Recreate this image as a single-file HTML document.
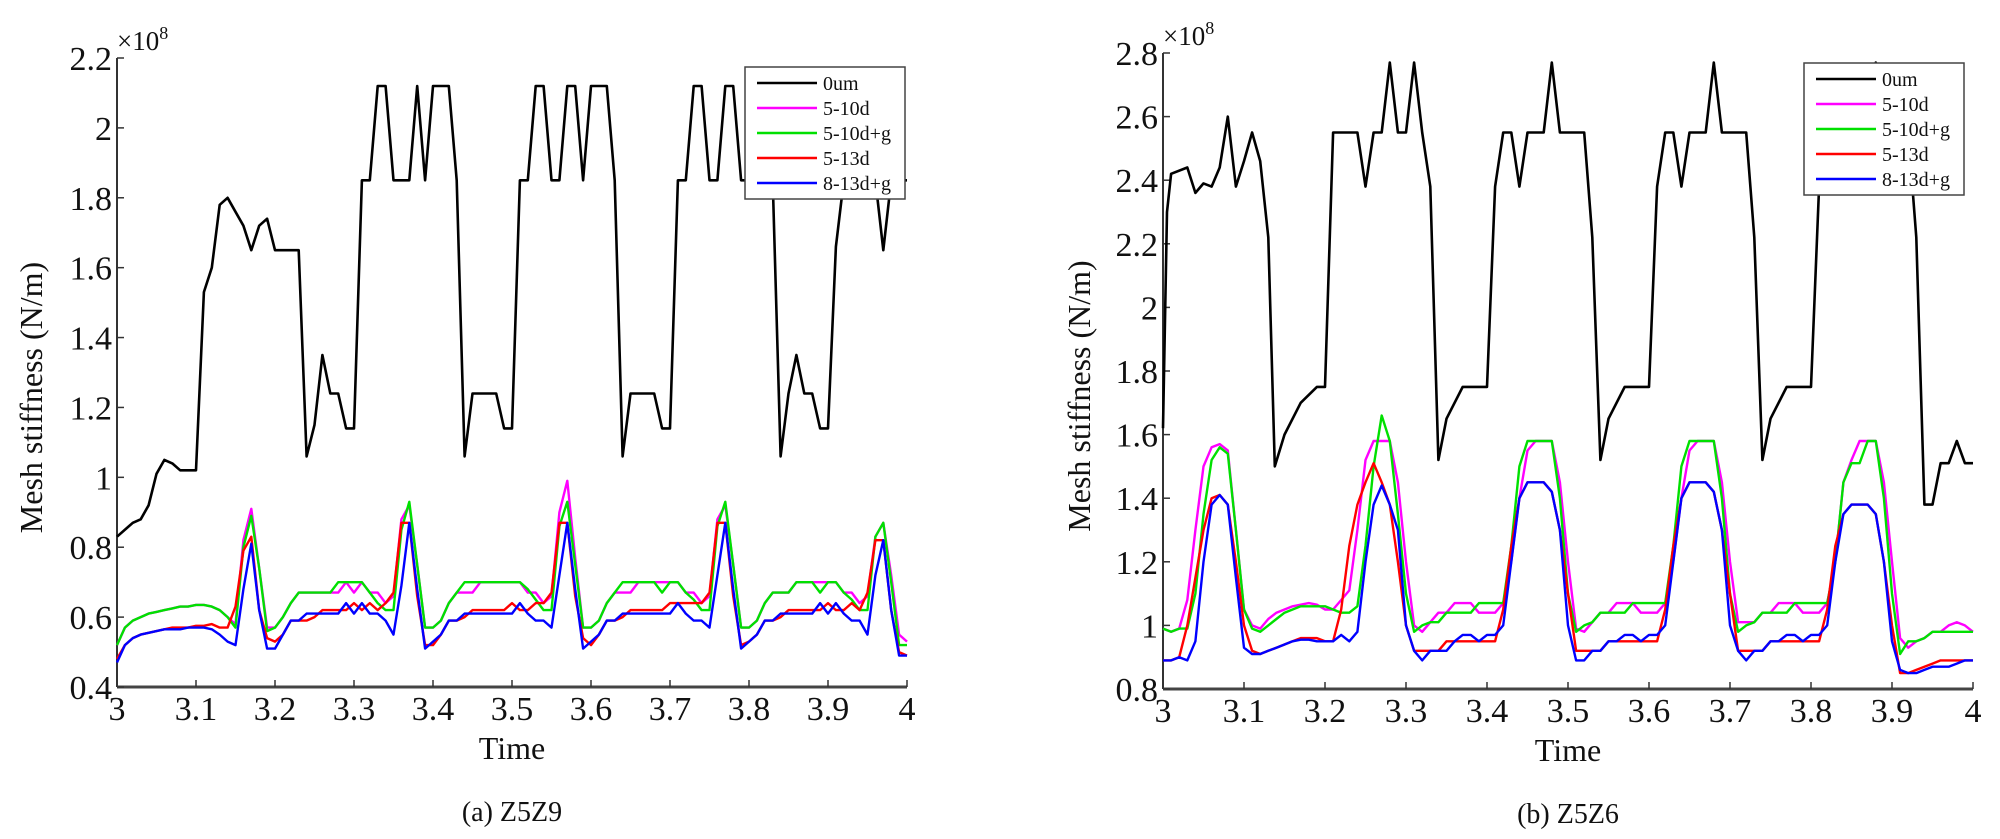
<!DOCTYPE html>
<html><head><meta charset="utf-8">
<style>
html,body{margin:0;padding:0;background:#fff;}
svg{display:block;font-family:"Liberation Serif",serif;}
</style></head>
<body>
<svg id="fig" width="2000" height="839" viewBox="0 0 2000 839" xmlns="http://www.w3.org/2000/svg">
<rect width="2000" height="839" fill="#fff"/>
<g id="chartA"></g>
<g id="chartB"></g>
</svg>
<script>
// ---------- Data: time grid (0.01 step) ----------
const tGrid = [3.00,3.01,3.02,3.03,3.04,3.05,3.06,3.07,3.08,3.09,3.10,3.11,3.12,3.13,3.14,3.15,3.16,3.17,3.18,3.19,3.20,3.21,3.22,3.23,3.24,3.25,3.26,3.27,3.28,3.29,3.30,3.31,3.32,3.33,3.34,3.35,3.36,3.37,3.38,3.39,3.40,3.41,3.42,3.43,3.44,3.45,3.46,3.47,3.48,3.49,3.50,3.51,3.52,3.53,3.54,3.55,3.56,3.57,3.58,3.59,3.60,3.61,3.62,3.63,3.64,3.65,3.66,3.67,3.68,3.69,3.70,3.71,3.72,3.73,3.74,3.75,3.76,3.77,3.78,3.79,3.80,3.81,3.82,3.83,3.84,3.85,3.86,3.87,3.88,3.89,3.90,3.91,3.92,3.93,3.94,3.95,3.96,3.97,3.98,3.99,4.00];

// ---------- Chart (a) Z5Z9 ----------
const aBlackT = [3.00,3.02,3.03,3.04,3.05,3.06,3.07,3.08,3.10,3.11,3.12,3.13,3.14,3.15,3.16,3.17,3.18,3.19,3.20,3.23,3.24,3.25,3.26,3.27,3.28,3.29,3.30,3.31,3.32,3.33,3.34,3.35,3.37,3.38,3.39,3.40,3.42,3.43,3.44,3.45,3.48,3.49,3.50,3.51,3.52,3.53,3.54,3.55,3.56,3.57,3.58,3.59,3.60,3.62,3.63,3.64,3.65,3.68,3.69,3.70,3.71,3.72,3.73,3.74,3.75,3.76,3.77,3.78,3.79,3.83,3.84,3.85,3.86,3.87,3.88,3.89,3.90,3.91,3.92,3.93,3.94,3.95,3.96,3.97,3.98,4.00];
const aBlackV = [0.83,0.87,0.88,0.92,1.01,1.05,1.04,1.02,1.02,1.53,1.60,1.78,1.80,1.76,1.72,1.65,1.72,1.74,1.65,1.65,1.06,1.15,1.35,1.24,1.24,1.14,1.14,1.85,1.85,2.12,2.12,1.85,1.85,2.12,1.85,2.12,2.12,1.85,1.06,1.24,1.24,1.14,1.14,1.85,1.85,2.12,2.12,1.85,1.85,2.12,2.12,1.85,2.12,2.12,1.85,1.06,1.24,1.24,1.14,1.14,1.85,1.85,2.12,2.12,1.85,1.85,2.12,2.12,1.85,1.85,1.06,1.24,1.35,1.24,1.24,1.14,1.14,1.66,1.85,2.12,2.12,1.85,1.85,1.65,1.85,1.85];
const aMagenta = [0.52,0.57,0.59,0.60,0.61,0.615,0.62,0.625,0.63,0.63,0.635,0.635,0.63,0.62,0.60,0.58,
 0.82,0.91,0.74,0.57,
 0.57,0.60,0.64,0.67,0.67,0.67,0.67,0.67,0.67,0.70,0.67,0.70,0.67,0.67,0.64,0.66,
 0.88,0.92,0.75,0.57,
 0.57,0.59,0.64,0.67,0.67,0.67,0.70,0.70,0.70,0.70,0.70,0.70,0.67,0.67,0.64,0.66,
 0.90,0.99,0.77,0.57,
 0.57,0.59,0.64,0.67,0.67,0.67,0.70,0.70,0.70,0.70,0.70,0.70,0.67,0.67,0.64,0.66,
 0.88,0.92,0.75,0.57,
 0.57,0.59,0.64,0.67,0.67,0.67,0.70,0.70,0.70,0.70,0.70,0.70,0.67,0.67,0.64,0.66,
 0.83,0.87,0.72,0.55,0.53];
const aGreen = [0.52,0.57,0.59,0.60,0.61,0.615,0.62,0.625,0.63,0.63,0.635,0.635,0.63,0.62,0.60,0.57,
 0.80,0.89,0.74,0.56,
 0.57,0.60,0.64,0.67,0.67,0.67,0.67,0.67,0.70,0.70,0.70,0.70,0.67,0.64,0.62,0.62,
 0.85,0.93,0.75,0.57,
 0.57,0.59,0.64,0.67,0.70,0.70,0.70,0.70,0.70,0.70,0.70,0.70,0.68,0.65,0.62,0.62,
 0.86,0.93,0.75,0.57,
 0.57,0.59,0.64,0.67,0.70,0.70,0.70,0.70,0.70,0.67,0.70,0.70,0.67,0.65,0.62,0.62,
 0.86,0.93,0.75,0.57,
 0.57,0.59,0.64,0.67,0.67,0.67,0.70,0.70,0.70,0.67,0.70,0.70,0.67,0.65,0.62,0.62,
 0.83,0.87,0.70,0.52,0.52];
const aRed = [0.48,0.52,0.54,0.55,0.555,0.56,0.565,0.57,0.57,0.57,0.575,0.575,0.58,0.57,0.57,0.63,
 0.79,0.83,0.62,0.54,
 0.53,0.55,0.59,0.59,0.59,0.60,0.62,0.62,0.62,0.62,0.64,0.62,0.64,0.62,0.64,0.67,
 0.87,0.87,0.66,0.52,
 0.52,0.55,0.59,0.59,0.60,0.62,0.62,0.62,0.62,0.62,0.64,0.62,0.62,0.64,0.64,0.67,
 0.87,0.87,0.66,0.54,
 0.52,0.55,0.59,0.59,0.60,0.62,0.62,0.62,0.62,0.62,0.64,0.64,0.64,0.64,0.64,0.67,
 0.87,0.87,0.66,0.52,
 0.53,0.55,0.59,0.59,0.60,0.62,0.62,0.62,0.62,0.62,0.64,0.62,0.62,0.64,0.62,0.67,
 0.82,0.82,0.62,0.50,0.49];
const aBlue = [0.47,0.52,0.54,0.55,0.555,0.56,0.565,0.565,0.565,0.57,0.57,0.57,0.565,0.55,0.53,0.52,
 0.68,0.81,0.62,0.51,
 0.51,0.55,0.59,0.59,0.61,0.61,0.61,0.61,0.61,0.64,0.61,0.64,0.61,0.61,0.59,0.55,
 0.69,0.87,0.68,0.51,
 0.53,0.55,0.59,0.59,0.61,0.61,0.61,0.61,0.61,0.61,0.61,0.64,0.61,0.59,0.59,0.57,
 0.72,0.87,0.68,0.51,
 0.53,0.55,0.59,0.59,0.61,0.61,0.61,0.61,0.61,0.61,0.61,0.64,0.61,0.59,0.59,0.57,
 0.72,0.87,0.68,0.51,
 0.53,0.55,0.59,0.59,0.61,0.61,0.61,0.61,0.61,0.64,0.61,0.64,0.61,0.59,0.59,0.55,
 0.72,0.82,0.62,0.49,0.49];
const aYTicks = ["0.4","0.6","0.8","1","1.2","1.4","1.6","1.8","2","2.2"];
const aYTickVals = [0.4,0.6,0.8,1.0,1.2,1.4,1.6,1.8,2.0,2.2];

// ---------- Chart (b) Z5Z6 ----------
const bBlackT = [3.00,3.005,3.01,3.03,3.04,3.05,3.06,3.07,3.08,3.09,3.10,3.11,3.12,3.13,3.138,3.15,3.17,3.19,3.20,3.21,3.24,3.25,3.26,3.27,3.28,3.29,3.30,3.31,3.32,3.33,3.34,3.35,3.37,3.40,3.41,3.42,3.43,3.44,3.45,3.47,3.48,3.49,3.52,3.53,3.54,3.55,3.57,3.60,3.61,3.62,3.63,3.64,3.65,3.67,3.68,3.69,3.72,3.73,3.74,3.75,3.77,3.80,3.81,3.82,3.83,3.84,3.85,3.87,3.88,3.89,3.92,3.93,3.94,3.95,3.96,3.97,3.98,3.99,4.00];
const bBlackV = [1.62,2.30,2.42,2.44,2.36,2.39,2.38,2.44,2.60,2.38,2.46,2.55,2.46,2.22,1.50,1.60,1.70,1.75,1.75,2.55,2.55,2.38,2.55,2.55,2.77,2.55,2.55,2.77,2.55,2.38,1.52,1.65,1.75,1.75,2.38,2.55,2.55,2.38,2.55,2.55,2.77,2.55,2.55,2.22,1.52,1.65,1.75,1.75,2.38,2.55,2.55,2.38,2.55,2.55,2.77,2.55,2.55,2.22,1.52,1.65,1.75,1.75,2.38,2.55,2.55,2.38,2.55,2.55,2.77,2.55,2.55,2.22,1.38,1.38,1.51,1.51,1.58,1.51,1.51];
const bMagenta = [0.99,0.98,0.99,1.08,1.30,1.50,1.56,1.57,1.55,1.30,
 1.05,1.00,0.99,1.02,1.04,1.05,1.06,1.065,1.07,1.065,
 1.05,1.05,1.08,1.11,1.30,1.52,1.58,1.58,1.58,1.45,
 1.20,1.00,0.98,1.01,1.04,1.04,1.07,1.07,1.07,1.04,
 1.04,1.04,1.07,1.20,1.40,1.55,1.58,1.58,1.58,1.45,
 1.20,0.99,0.98,1.01,1.04,1.04,1.07,1.07,1.07,1.04,
 1.04,1.04,1.07,1.20,1.40,1.55,1.58,1.58,1.58,1.45,
 1.20,1.01,1.01,1.01,1.04,1.04,1.07,1.07,1.07,1.04,
 1.04,1.04,1.07,1.20,1.45,1.52,1.58,1.58,1.58,1.45,
 1.20,0.96,0.93,0.95,0.96,0.98,0.98,1.00,1.01,1.00,
 0.98];
const bGreen = [0.99,0.98,0.99,0.99,1.10,1.35,1.52,1.56,1.54,1.30,
 1.05,0.99,0.98,1.00,1.02,1.04,1.05,1.06,1.06,1.06,
 1.06,1.05,1.04,1.04,1.06,1.25,1.50,1.66,1.58,1.35,
 1.10,0.98,1.00,1.01,1.01,1.04,1.04,1.04,1.04,1.07,
 1.07,1.07,1.07,1.25,1.50,1.58,1.58,1.58,1.58,1.40,
 1.10,0.98,1.00,1.01,1.04,1.04,1.04,1.04,1.07,1.07,
 1.07,1.07,1.07,1.25,1.50,1.58,1.58,1.58,1.58,1.40,
 1.10,0.98,1.00,1.01,1.04,1.04,1.04,1.04,1.07,1.07,
 1.07,1.07,1.07,1.20,1.45,1.51,1.51,1.58,1.58,1.40,
 1.10,0.91,0.95,0.95,0.96,0.98,0.98,0.98,0.98,0.98,
 0.98];
const bRed = [0.89,0.89,0.90,1.00,1.15,1.30,1.40,1.41,1.38,1.20,
 1.00,0.92,0.91,0.92,0.93,0.94,0.95,0.96,0.96,0.96,
 0.95,0.95,1.05,1.25,1.38,1.45,1.51,1.45,1.38,1.20,
 1.00,0.92,0.92,0.92,0.92,0.95,0.95,0.95,0.95,0.95,
 0.95,0.95,1.05,1.25,1.40,1.45,1.45,1.45,1.42,1.30,
 1.10,0.92,0.92,0.92,0.92,0.95,0.95,0.95,0.95,0.95,
 0.95,0.95,1.05,1.25,1.40,1.45,1.45,1.45,1.42,1.30,
 1.10,0.92,0.92,0.92,0.92,0.95,0.95,0.95,0.95,0.95,
 0.95,0.95,1.05,1.25,1.35,1.38,1.38,1.38,1.35,1.20,
 1.00,0.85,0.85,0.86,0.87,0.88,0.89,0.89,0.89,0.89,
 0.89];
const bBlue = [0.89,0.89,0.90,0.89,0.95,1.20,1.38,1.41,1.38,1.15,
 0.93,0.91,0.91,0.92,0.93,0.94,0.95,0.955,0.955,0.95,
 0.95,0.95,0.97,0.95,0.98,1.20,1.38,1.44,1.38,1.30,
 1.00,0.92,0.89,0.92,0.92,0.92,0.95,0.97,0.97,0.95,
 0.97,0.97,1.00,1.20,1.40,1.45,1.45,1.45,1.42,1.30,
 1.00,0.89,0.89,0.92,0.92,0.95,0.95,0.97,0.97,0.95,
 0.97,0.97,1.00,1.20,1.40,1.45,1.45,1.45,1.42,1.30,
 1.00,0.92,0.89,0.92,0.92,0.95,0.95,0.97,0.97,0.95,
 0.97,0.97,1.00,1.20,1.35,1.38,1.38,1.38,1.35,1.20,
 0.95,0.86,0.85,0.85,0.86,0.87,0.87,0.87,0.88,0.89,
 0.89];
const bYTicks = ["0.8","1","1.2","1.4","1.6","1.8","2","2.2","2.4","2.6","2.8"];
const bYTickVals = [0.8,1.0,1.2,1.4,1.6,1.8,2.0,2.2,2.4,2.6,2.8];

const xTicks = ["3","3.1","3.2","3.3","3.4","3.5","3.6","3.7","3.8","3.9","4"];
const xTickVals = [3.0,3.1,3.2,3.3,3.4,3.5,3.6,3.7,3.8,3.9,4.0];
const legendLabels = ["0um","5-10d","5-10d+g","5-13d","8-13d+g"];
const seriesColors = ["#000000","#ff00ff","#00e000","#ff0000","#0000ff"];

const NS = "http://www.w3.org/2000/svg";
function mk(tag, attrs, parent){const e=document.createElementNS(NS,tag);for(const k in attrs)e.setAttribute(k,attrs[k]);parent.appendChild(e);return e;}

function drawChart(g, cfg){
  const xS = t => cfg.x0 + (t-3)/(1)*(cfg.x1-cfg.x0);
  const yS = v => cfg.yB + (v-cfg.vMin)/(cfg.vMax-cfg.vMin)*(cfg.yT-cfg.yB);
  const ya = mk('line',{x1:cfg.x0,y1:cfg.yT,x2:cfg.x0,y2:cfg.yB,stroke:'#333','stroke-width':2},g);
  
  
  const xa = mk('line',{x1:cfg.x0,y1:cfg.yB,x2:cfg.x1,y2:cfg.yB,stroke:'#444','stroke-width':3},g);
  
  
  cfg.yVals.forEach((v,i)=>{
    const y=yS(v);
    const tk=mk('line',{x1:cfg.x0,y1:y,x2:cfg.x0+7,y2:y,stroke:'#333','stroke-width':1.5},g);
    
    
    const tx=mk('text',{x:cfg.x0-5,y:y+12,'text-anchor':'end','font-size':34,fill:'#111'},g);
    tx.textContent=cfg.yLabs[i];
    
    
  });
  xTickVals.forEach((v,i)=>{
    const x=xS(v);
    const tk=mk('line',{x1:x,y1:cfg.yB,x2:x,y2:cfg.yB-7,stroke:'#333','stroke-width':1.5},g);
    
    
    const tx=mk('text',{x:x,y:cfg.yB+33,'text-anchor':'middle','font-size':34,fill:'#111'},g);
    tx.textContent=xTicks[i];
    
    
  });
  const ex=mk('text',{x:cfg.x0,y:cfg.yT-8,'font-size':27,fill:'#111'},g);
  ex.textContent='×10';
  
  
  const ex8=mk('tspan',{dy:-11,'font-size':18},ex); ex8.textContent='8';
  const yl=mk('text',{x:0,y:0,'text-anchor':'middle','font-size':32,fill:'#111',transform:`translate(${cfg.yLabX},${(cfg.yT+cfg.yB)/2+25}) rotate(-90)`},g);
  yl.textContent='Mesh stiffness (N/m)';
  
  
  const xl=mk('text',{x:(cfg.x0+cfg.x1)/2,y:cfg.yB+72,'text-anchor':'middle','font-size':32,fill:'#111'},g);
  xl.textContent='Time';
  
  
  const cp=mk('text',{x:(cfg.x0+cfg.x1)/2,y:cfg.yB+134,'text-anchor':'middle','font-size':28,fill:'#111'},g);
  cp.textContent=cfg.caption;
  
  
  const series=[[cfg.blackT,cfg.blackV],[tGrid,cfg.mag],[tGrid,cfg.grn],[tGrid,cfg.red],[tGrid,cfg.blu]];
  const names=['series-0um','series-5-10d','series-5-10d-g','series-5-13d','series-8-13d-g'];
  series.forEach((s,k)=>{
    const pts=s[1].map((v,i)=>xS(s[0][i]).toFixed(1)+','+yS(v).toFixed(1)).join(' ');
    const pl=mk('polyline',{points:pts,fill:'none',stroke:seriesColors[k],'stroke-width':k==0?2.6:2.4,'stroke-linejoin':'round'},g);
    
    
  });
  const lg=mk('g',{},g);
  
  
  mk('rect',{x:cfg.lx,y:cfg.ly,width:160,height:132,fill:'#fff',stroke:'#444','stroke-width':1.5},lg);
  legendLabels.forEach((lab,i)=>{
    const y=cfg.ly+16+i*25;
    const en=mk('g',{},lg);
    
    
    mk('line',{x1:cfg.lx+12,y1:y,x2:cfg.lx+72,y2:y,stroke:seriesColors[i],'stroke-width':2.5},en);
    const t=mk('text',{x:cfg.lx+78,y:y+7,'font-size':20,fill:'#111'},en);
    t.textContent=lab;
  });
}

drawChart(document.getElementById('chartA'),{x0:117,x1:907,yT:58,yB:687,vMin:0.4,vMax:2.2,yVals:aYTickVals,yLabs:aYTicks,
  blackT:aBlackT,blackV:aBlackV,mag:aMagenta,grn:aGreen,red:aRed,blu:aBlue,lx:745,ly:67,yLabX:42,caption:'(a) Z5Z9'});
drawChart(document.getElementById('chartB'),{x0:1163,x1:1973,yT:53,yB:689,vMin:0.8,vMax:2.8,yVals:bYTickVals,yLabs:bYTicks,
  blackT:bBlackT,blackV:bBlackV,mag:bMagenta,grn:bGreen,red:bRed,blu:bBlue,lx:1804,ly:63,yLabX:1090,caption:'(b) Z5Z6'});
</script>
</body></html>
